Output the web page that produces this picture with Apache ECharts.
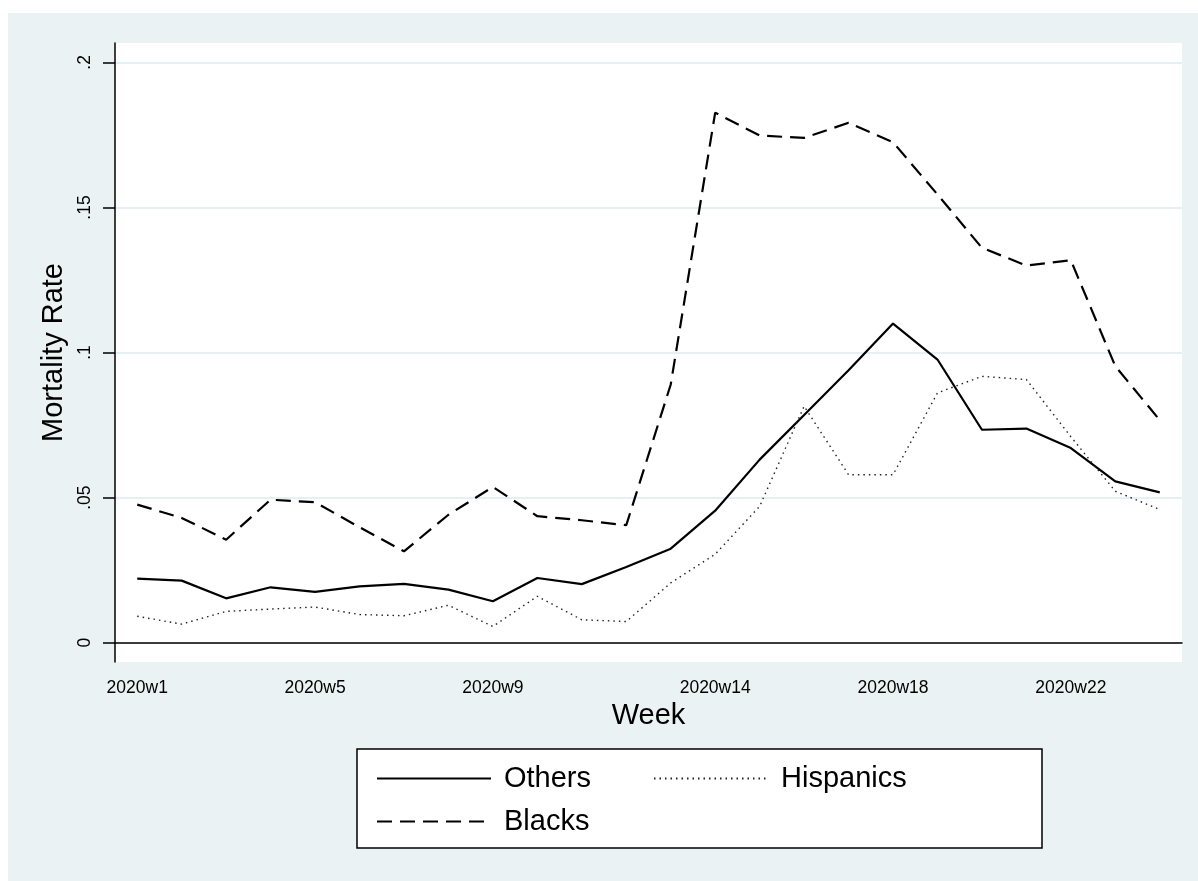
<!DOCTYPE html>
<html>
<head>
<meta charset="utf-8">
<script src="https://cdn.jsdelivr.net/npm/echarts@6/dist/echarts.min.js"></script>
<style>
  html, body { margin: 0; padding: 0; background: #fff; }
  #chart { position: absolute; left: 8px; top: 13px; width: 1190px; height: 868px; background: #EAF2F3; }
</style>
</head>
<body>
<div id="chart"></div>
<script>
// weeks (x categories)
const weeks = ['2020w1', '2020w2', '2020w3', '2020w4', '2020w5', '2020w6', '2020w7', '2020w8',
  '2020w9', '2020w10', '2020w11', '2020w12', '2020w13', '2020w14', '2020w15', '2020w16',
  '2020w17', '2020w18', '2020w19', '2020w20', '2020w21', '2020w22', '2020w23', '2020w24'];
// weeks that carry a tick + label
const labelledWeeks = ['2020w1', '2020w5', '2020w9', '2020w14', '2020w18', '2020w22'];
const yTicks = [0, 0.05, 0.1, 0.15, 0.2];

// mortality rate by group
const others = [0.0221, 0.0214, 0.0153, 0.0191, 0.0175, 0.0194, 0.0203, 0.0183, 0.0143, 0.0223,
  0.0202, 0.0261, 0.0324, 0.0455, 0.0631, 0.0785, 0.0939, 0.1100, 0.0976, 0.0734, 0.0738, 0.0671,
  0.0556, 0.0518];
const blacks = [0.0476, 0.0430, 0.0355, 0.0493, 0.0484, 0.0398, 0.0315, 0.0441, 0.0537, 0.0436,
  0.0422, 0.0405, 0.0890, 0.1827, 0.1748, 0.1740, 0.1792, 0.1725, 0.1545, 0.1361, 0.1300, 0.1318,
  0.0953, 0.0767];
const hispanics = [0.0091, 0.0064, 0.0108, 0.0116, 0.0123, 0.0097, 0.0093, 0.0129, 0.0056, 0.0160,
  0.0079, 0.0073, 0.0206, 0.0305, 0.0470, 0.0815, 0.0579, 0.0579, 0.0861, 0.0918, 0.0907, 0.0710,
  0.0522, 0.0459];

const FONT = 'Liberation Sans, Arial, sans-serif';
const chart = echarts.init(document.getElementById('chart'));

const showWeek = (i) => labelledWeeks.indexOf(weeks[i]) >= 0;

// 图例
function legendItem(name, left, top) {
  return {
    data: [name],
    left: left,
    top: top,
    orient: 'horizontal',
    itemWidth: 114,
    itemHeight: 14,
    selectedMode: false,
    itemStyle: { opacity: 0, borderWidth: 0 },
    textStyle: { fontFamily: FONT, fontSize: 29, color: '#000', padding: [0, 0, 0, 8] }
  };
}

const option = {
  animation: false,
  backgroundColor: '#EAF2F3',
  grid: {
    left: 107, top: 30, right: 16, bottom: 219,
    show: true, backgroundColor: '#fff', borderWidth: 0
  },
  graphic: [{
    type: 'rect',
    shape: { x: 349, y: 736, width: 685, height: 99 },
    style: { fill: '#fff', stroke: '#000', lineWidth: 1.5 },
    z: 0
  }],
  legend: [
    legendItem('Others', 363, 746),
    legendItem('Blacks', 363, 789),
    legendItem('Hispanics', 640, 746)
  ],
  xAxis: {
    type: 'category',
    data: weeks,
    boundaryGap: true,
    name: 'Week',
    nameLocation: 'middle',
    nameGap: 35,
    nameTextStyle: { fontFamily: FONT, fontSize: 29, color: '#000' },
    axisLine: { lineStyle: { color: '#000', width: 1.5 } },
    axisTick: { alignWithLabel: true, interval: (i) => showWeek(i), length: 11, lineStyle: { color: '#000', width: 1.5 } },
    axisLabel: { interval: (i) => showWeek(i), fontFamily: FONT, fontSize: 17.5, color: '#000', margin: 17 },
    splitLine: { show: false }
  },
  yAxis: {
    type: 'value',
    min: -0.00665,
    max: 0.2067,
    name: 'Mortality Rate',
    nameLocation: 'middle',
    nameGap: 44,
    nameRotate: 90,
    nameTextStyle: { fontFamily: FONT, fontSize: 29, color: '#000' },
    axisLine: { show: true, lineStyle: { color: '#000', width: 1.5 } },
    axisTick: { show: true, length: 12, customValues: yTicks, lineStyle: { color: '#000', width: 1.5 } },
    axisLabel: {
      customValues: yTicks,
      rotate: 90,
      fontFamily: FONT, fontSize: 17.5, color: '#000', margin: 21,
      formatter: (v) => (v === 0 ? '0' : String(+v.toFixed(2)).replace(/^0\./, '.'))
    },
    splitLine: { show: true, lineStyle: { color: '#E6EFF1', width: 2 } }
  },
  series: [
    {
      name: 'Others', type: 'line', data: others, symbol: 'none',
      lineStyle: { color: '#000', width: 2.2, type: 'solid' }, itemStyle: { color: '#000' }
    },
    {
      name: 'Blacks', type: 'line', data: blacks, symbol: 'none',
      lineStyle: { color: '#000', width: 2.2, type: [15, 8] }, itemStyle: { color: '#000' }
    },
    {
      name: 'Hispanics', type: 'line', data: hispanics, symbol: 'none',
      lineStyle: { color: '#222', width: 1.4, type: [1.5, 4] }, itemStyle: { color: '#222' }
    }
  ]
};

chart.setOption(option);
</script>
</body>
</html>
